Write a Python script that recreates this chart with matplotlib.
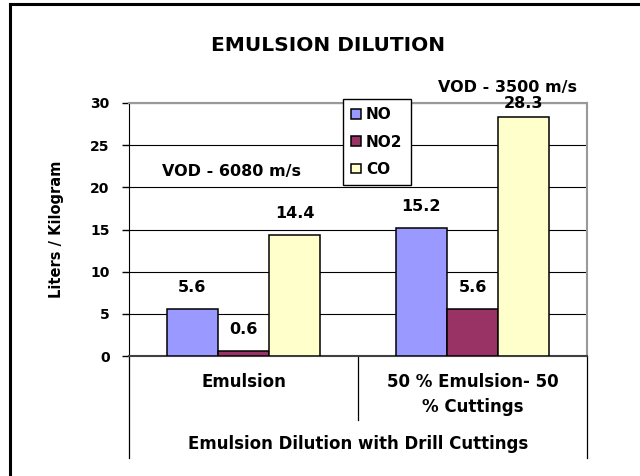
import numpy as np
import matplotlib
matplotlib.use("Agg")
import matplotlib.pyplot as plt
from matplotlib.lines import Line2D
from matplotlib.transforms import blended_transform_factory

# -------- DATA ------------------------------------------------------
categories = ["Emulsion", "50 % Emulsion- 50\n% Cuttings"]
series_names = ["NO", "NO2", "CO"]
no_vals = [5.6, 15.2]
no2_vals = [0.6, 5.6]
co_vals = [14.4, 28.3]
vod_labels = ["VOD - 6080 m/s", "VOD - 3500 m/s"]
title = "EMULSION DILUTION"
ylabel = "Liters / Kilogram"
xlabel = "Emulsion Dilution with Drill Cuttings"
yticks = [0, 5, 10, 15, 20, 25, 30]
# --------------------------------------------------------------------

COLORS = ["#9999FF", "#993366", "#FFFFCC"]
W, H = 640, 476
AX_TOP, AX_BOT = 103, 356


def main():
    fig = plt.figure(figsize=(6.4, 4.76), dpi=100)
    ax = fig.add_axes([129 / W, 1 - AX_BOT / H, (587 - 129) / W, (AX_BOT - AX_TOP) / H])
    ah = AX_BOT - AX_TOP

    x = np.arange(len(categories))
    bw = 0.223
    all_vals = [no_vals, no2_vals, co_vals]
    for i, (name, vals) in enumerate(zip(series_names, all_vals)):
        pos = x + (i - 1) * bw
        ax.bar(pos, vals, width=bw, color=COLORS[i], edgecolor="black",
               linewidth=1.1, label=name, zorder=3)
        for px, v in zip(pos, vals):
            off = 9 if v > 27 else 17  # top label gets squeezed under the VOD note
            ax.annotate(f"{v}", (px, v), xytext=(0, off), textcoords="offset pixels",
                        ha="center", va="baseline", fontsize=11.5, fontweight="bold",
                        annotation_clip=False)

    ax.set_xlim(-0.5, len(categories) - 0.5)
    ax.set_ylim(0, 30)
    ax.set_yticks(yticks)
    ax.set_yticklabels([str(t) for t in yticks], fontsize=10, fontweight="bold")
    ax.set_xticks([])
    ax.tick_params(axis="y", direction="out", length=5, width=1, pad=9)
    ax.yaxis.grid(True, color="black", linewidth=0.8, zorder=0)
    ax.set_axisbelow(True)
    ax.spines["left"].set_color("black")
    ax.spines["bottom"].set_color("#404040")
    ax.spines["bottom"].set_linewidth(1.5)
    for s in ["top", "right"]:
        ax.spines[s].set_color("#999999")
        ax.spines[s].set_linewidth(1.5)

    ax.set_ylabel(ylabel, fontsize=10.5, fontweight="bold")
    ax.yaxis.set_label_coords(-(129 - 64) / (587 - 129), 0.5)

    # category labels + separators below the axis
    tr = blended_transform_factory(ax.transData, ax.transAxes)
    for xi, cat in zip(x, categories):
        for j, line in enumerate(cat.split("\n")):
            ax.text(xi, -(387 + 25 * j - AX_BOT) / ah, line, transform=tr,
                    ha="center", va="baseline", fontsize=12, fontweight="bold")
    for xb, ybot in [(-0.5, 458), (0.5, 420), (1.5, 458)]:
        ax.add_line(Line2D([xb, xb], [0, -(ybot - AX_BOT) / ah], transform=tr,
                           color="black", linewidth=0.9, clip_on=False))
    ax.text(0.5, -(449 - AX_BOT) / ah, xlabel, transform=ax.transAxes,
            ha="center", va="baseline", fontsize=12, fontweight="bold")

    # VOD notes
    ax.text(-0.052, 21.35, vod_labels[0], ha="center", va="baseline",
            fontsize=11.5, fontweight="bold")
    ax.text(1.155, 31.25, vod_labels[1], ha="center", va="baseline",
            fontsize=11.5, fontweight="bold", clip_on=False)

    leg = ax.legend(loc="upper left", bbox_to_anchor=(343 / W, 1 - 99 / H),
                    bbox_transform=fig.transFigure, frameon=True, fancybox=False,
                    edgecolor="black", framealpha=1, borderpad=0.55, borderaxespad=0,
                    handlelength=0.6, handleheight=0.6, handletextpad=0.35,
                    labelspacing=0.8, prop={"weight": "bold", "size": 11})
    leg.get_frame().set_linewidth(1.0)
    leg.set_zorder(5)

    fig.text(328 / W, 1 - 51 / H, title, ha="center", va="baseline",
             fontsize=14.5, fontweight="bold")

    # outer border (top and left visible)
    fig.add_artist(Line2D([10 / W, 10 / W], [0, 1 - 4 / H], transform=fig.transFigure,
                          color="black", linewidth=2.2))
    fig.add_artist(Line2D([10 / W, 1], [1 - 4 / H, 1 - 4 / H], transform=fig.transFigure,
                          color="black", linewidth=2.2))

    fig.savefig("out.png", dpi=100)


if __name__ == "__main__":
    main()
